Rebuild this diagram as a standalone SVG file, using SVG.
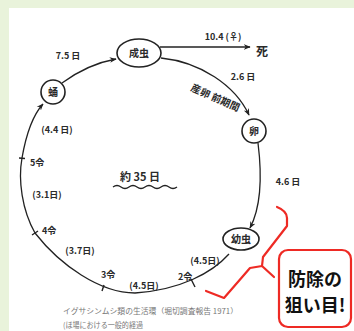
<svg xmlns="http://www.w3.org/2000/svg" width="354" height="331" viewBox="0 0 354 331">
<defs>
<marker id="arr" viewBox="0 0 10 10" refX="9" refY="5" markerWidth="7" markerHeight="7" markerUnits="userSpaceOnUse" orient="auto"><path d="M0,1 L10,5 L0,9 L3,5 Z" fill="#222"/></marker>
<style>
.ln{fill:none;stroke:#222;stroke-width:1.3}
.tk{fill:none;stroke:#222;stroke-width:1.4}
.nd{fill:#fff;stroke:#222;stroke-width:1.6}
.t{font-family:"Noto Sans CJK JP","Liberation Sans",sans-serif;fill:#2a2a2a;font-weight:bold;text-anchor:middle;font-size:9px}
.ts{text-anchor:start}
.cap{font-family:"Noto Sans CJK JP","Liberation Sans",sans-serif;font-size:7.5px;fill:#777}
.red{fill:none;stroke:#ee2a24;stroke-width:2.2;stroke-linejoin:round;stroke-linecap:round}
.big{font-family:"Noto Sans CJK JP","Liberation Sans",sans-serif;font-size:18px;font-weight:bold;fill:#111;text-anchor:middle}
</style>
</defs>
<rect width="354" height="331" fill="#e9f3db"/>
<rect x="9" y="8" width="345" height="323" fill="#fff"/>

<g id="connectors">
<path class="ln" d="M62,83 Q88,64 116,59" marker-end="url(#arr)"/>
<path class="ln" d="M161,58 C200,62 235,85 249,115" marker-end="url(#arr)"/>
<path class="ln" d="M160,47 L250,47" marker-end="url(#arr)"/>
<path class="ln" d="M258,143 C262,175 262,205 250,228" marker-end="url(#arr)"/>
<path class="ln" d="M229,254 C212,273 180,290 135,293 C100,293 60,265 35,233 C22,210 18,180 22,158 C26,135 33,115 43,104" marker-end="url(#arr)"/>
<path class="tk" d="M191,279 L195,287 M102,291 L104,285 M32,235 L38,231 M19,158 L25,158.5"/>
</g>

<g id="node-adult">
<ellipse class="nd" cx="139" cy="53" rx="22" ry="14"/>
<text class="t" x="139" y="57" style="font-size:10px">成虫</text>
</g>
<g id="node-pupa">
<circle class="nd" cx="53" cy="92" r="12"/>
<text class="t" x="53" y="96" style="font-size:10px">蛹</text>
</g>
<g id="node-egg">
<circle class="nd" cx="254" cy="131" r="12"/>
<text class="t" x="254" y="135" style="font-size:10px">卵</text>
</g>
<g id="node-larva">
<ellipse class="nd" cx="241" cy="239" rx="18" ry="11"/>
<text class="t" x="241" y="243" style="font-size:10px">幼虫</text>
</g>
<g id="node-death">
<text class="t" x="262" y="56" style="font-size:12px">死</text>
</g>

<g id="labels">
<text class="t" x="68" y="59">7.5 日</text>
<text class="t" x="223" y="40">10.4 (♀)</text>
<text class="t" x="243" y="80">2.6 日</text>
<text class="t" x="0" y="0" transform="translate(214,101) rotate(24)" style="font-size:10px">産卵 前期間</text>
<text class="t" x="288" y="185">4.6 日</text>
<text class="t" x="205" y="264">(4.5日)</text>
<text class="t ts" x="178" y="280">2令</text>
<text class="t" x="144" y="289">(4.5日)</text>
<text class="t ts" x="101" y="278">3令</text>
<text class="t" x="80" y="254">(3.7日)</text>
<text class="t ts" x="42" y="234">4令</text>
<text class="t" x="47" y="198">(3.1日)</text>
<text class="t ts" x="30" y="166">5令</text>
<text class="t" x="57" y="133">(4.4 日)</text>
<text class="t" x="140" y="181" style="font-size:11px">約 35 日</text>
<path class="ln" d="M113,187 q4,-3 8,0 t8,0 t8,0 t8,0 t8,0 t8,0 t8,0 t8,0"/>
</g>

<g id="caption">
<text class="cap" x="63" y="314" textLength="175" lengthAdjust="spacingAndGlyphs">イグサシンムシ類の生活環（堀切調査報告 1971）</text>
<text class="cap" x="63" y="328" textLength="80" lengthAdjust="spacingAndGlyphs">(ほ場における一般的経過</text>
</g>

<g id="annotation">
<path class="red" d="M277,207 Q287,211 287,218 L287,226 L263,257 L262,266 L274,277 M262,266 L250,268 L224,298 L206,291"/>
<rect x="279" y="250" width="72" height="77" rx="9" fill="#fff" stroke="#ee2a24" stroke-width="2.2"/>
<text class="big" x="315" y="286">防除の</text>
<text class="big" x="315" y="312">狙い目!</text>
</g>
</svg>
